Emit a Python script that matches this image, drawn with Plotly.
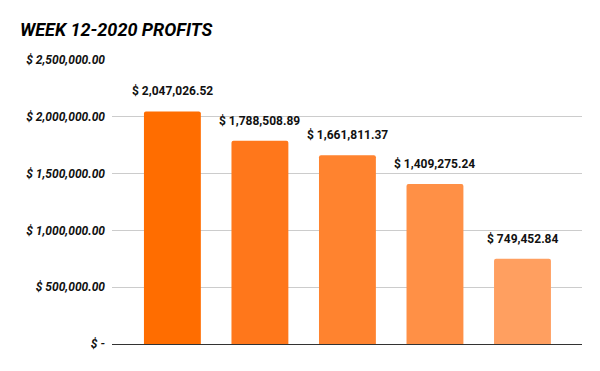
import plotly.graph_objects as go

categories = ["A", "B", "C", "D", "E"]
profits = [2047026.52, 1788508.89, 1661811.37, 1409275.24, 749452.84]
bar_colors = ["#FF6D00", "#FF771B", "#FF832F", "#FF9046", "#FF9F60"]
tick_values = [0, 500000, 1000000, 1500000, 2000000, 2500000]
tick_labels = ["$ -", "$ 500,000.00", "$ 1,000,000.00", "$ 1,500,000.00",
               "$ 2,000,000.00", "$ 2,500,000.00"]
title_text = "WEEK 12-2020 PROFITS"


def fmt(v):
    return "$ {:,.2f}".format(v)


W, H = 600, 371
OFF = 8  # page body margin

fig = go.Figure()
fig.add_trace(go.Bar(
    x=list(range(len(categories))),
    y=profits,
    marker=dict(color=bar_colors, line=dict(width=0), cornerradius=2),
    width=0.65,
    hoverinfo="skip",
))

for i, v in enumerate(profits):
    fig.add_annotation(
        x=i, y=v, text=fmt(v), showarrow=False,
        yanchor="bottom", xanchor="center", yshift=11,
        font=dict(family="Roboto", size=12, color="#111111", weight="bold"),
    )

fig.update_layout(
    width=W, height=H,
    margin=dict(l=112 - OFF, r=W - 582 + OFF, t=60 - OFF, b=H - 344 + OFF),
    paper_bgcolor="white", plot_bgcolor="white",
    showlegend=False,
    title=dict(
        text=title_text, x=(20 - OFF) / W, xanchor="left", xref="container",
        y=1 - (30 - OFF) / H, yanchor="middle", yref="container",
        font=dict(family="Roboto", size=18, color="#000000",
                  weight="bold", style="italic"),
    ),
    xaxis=dict(
        range=[-0.69, 4.68], showticklabels=False, showgrid=False,
        zeroline=False, showline=True, linecolor="#333333", linewidth=1,
        ticks="", fixedrange=True,
    ),
    yaxis=dict(
        range=[0, 2500000], tickvals=tick_values, ticktext=tick_labels,
        showgrid=True, gridcolor="#CCCCCC", gridwidth=1,
        zeroline=False, showline=False, ticks="",
        ticklabelstandoff=6,
        tickfont=dict(family="Roboto", size=12, color="#111111",
                      weight="bold", style="italic"),
    ),
)

fig.write_html("out.html")
